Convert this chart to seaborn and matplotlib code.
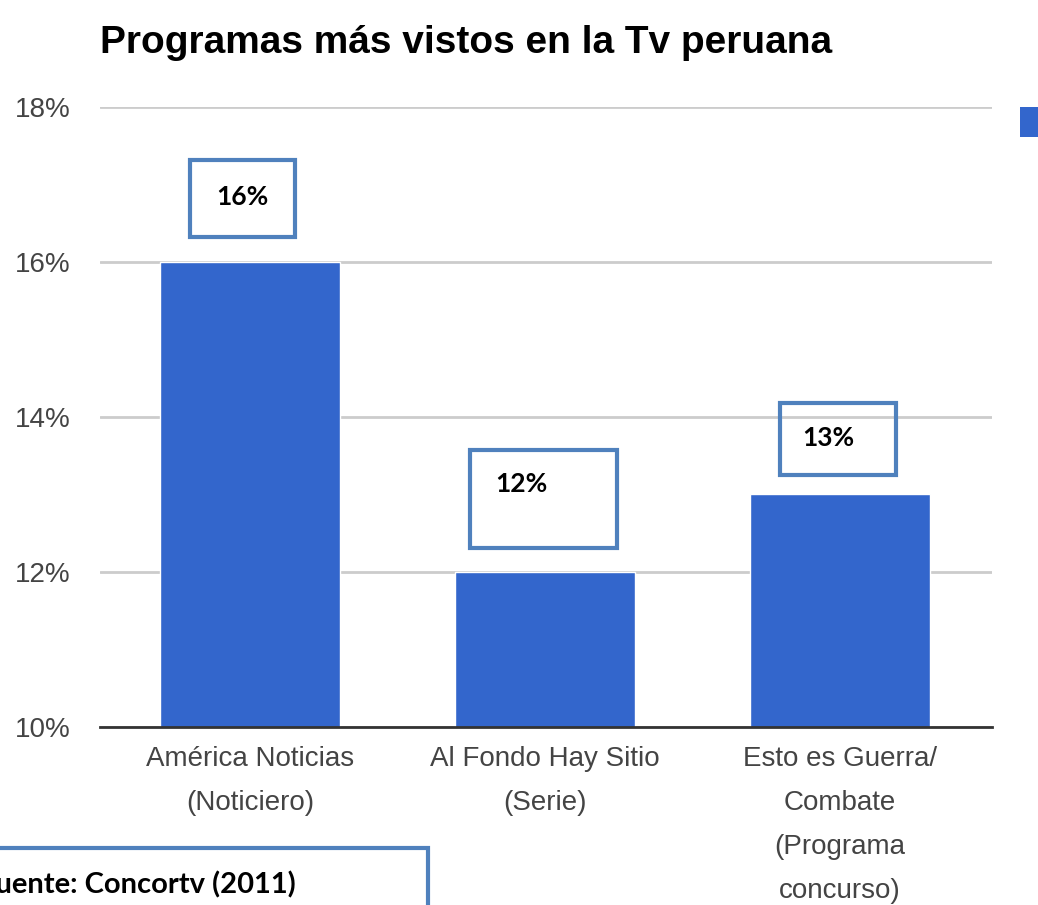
import matplotlib
matplotlib.use("Agg")
import matplotlib.pyplot as plt
import seaborn as sns
import pandas as pd
from matplotlib.patches import Rectangle

# datos del grafico
programas = ["América Noticias\n(Noticiero)",
             "Al Fondo Hay Sitio\n(Serie)",
             "Esto es Guerra/\nCombate\n(Programa\nconcurso)"]
porcentajes = [16, 12, 13]
etiquetas = ["16%", "12%", "13%"]
yticks = [10, 12, 14, 16, 18]
titulo = "Programas más vistos en la Tv peruana"
fuente = "Fuente: Concortv (2011)"

azul = "#3366CC"
borde = "#4F81BD"

sns.set_style("white")
plt.rcParams['font.family'] = ['Liberation Sans', 'DejaVu Sans']

df = pd.DataFrame({"programa": programas, "valor": porcentajes})

fig = plt.figure(figsize=(10.38, 9.05), dpi=100)
ax = fig.add_axes([0.0963, 0.1967, 0.8594, 0.6851])

sns.barplot(data=df, x="programa", y="valor", color=azul, saturation=1,
            width=0.61, ax=ax, zorder=3)

ax.set_ylim(10, 18)
ax.set_xlim(-0.508, 2.515)
ax.set_yticks(yticks)
ax.set_yticklabels([f"{t}%" for t in yticks])
ax.yaxis.grid(True, color="#cccccc", linewidth=2, zorder=0)
ax.set_xlabel("")
ax.set_ylabel("")
for s in ["top", "right", "left"]:
    ax.spines[s].set_visible(False)
ax.spines["bottom"].set_color("#333333")
ax.spines["bottom"].set_linewidth(2)
ax.spines["bottom"].set_zorder(4)
ax.tick_params(axis="both", length=0, labelsize=20, colors="#444444")
ax.tick_params(axis="y", pad=21)
ax.tick_params(axis="x", pad=14)
for lbl in ax.get_xticklabels():
    lbl.set_linespacing(1.9)

# cajas con los valores (desplazamientos relativos a cada barra)
cajas = [(-0.203, 0.153, 17.32, 16.32, -0.024, 16.84),
         (-0.254, 0.244, 13.57, 12.31, -0.081, 13.13),
         (-0.203, 0.190, 14.18, 13.25, -0.040, 13.73)]
for i, (etq, c) in enumerate(zip(etiquetas, cajas)):
    x0, x1, ytop, ybot, tx, ty = c
    ax.add_patch(Rectangle((i + x0, ybot), x1 - x0, ytop - ybot, fill=False,
                           edgecolor=borde, linewidth=3, zorder=5))
    ax.text(i + tx, ty, etq, ha="center", va="center", fontsize=19,
            fontweight="bold", color="black", family=["Lato", "DejaVu Sans"], zorder=6)

fig.text(0.0963, 0.952, titulo, fontsize=28, fontweight="bold", color="black",
         ha="left", va="center")

# caja de la fuente (recortada en el borde, como en el original)
fig.patches.append(Rectangle((-0.02, -0.05), 0.432, 0.113, transform=fig.transFigure,
                             fill=False, edgecolor=borde, linewidth=3))
fig.text(0.285, 0.022, fuente, fontsize=21, fontweight="bold", color="black",
         family=["Lato", "DejaVu Sans"], ha="right", va="center")

# cuadro de leyenda cortado a la derecha
fig.patches.append(Rectangle((0.9827, 0.8486), 0.05, 0.033, transform=fig.transFigure,
                             facecolor=azul, edgecolor="none"))

fig.savefig("out.png", dpi=100)
